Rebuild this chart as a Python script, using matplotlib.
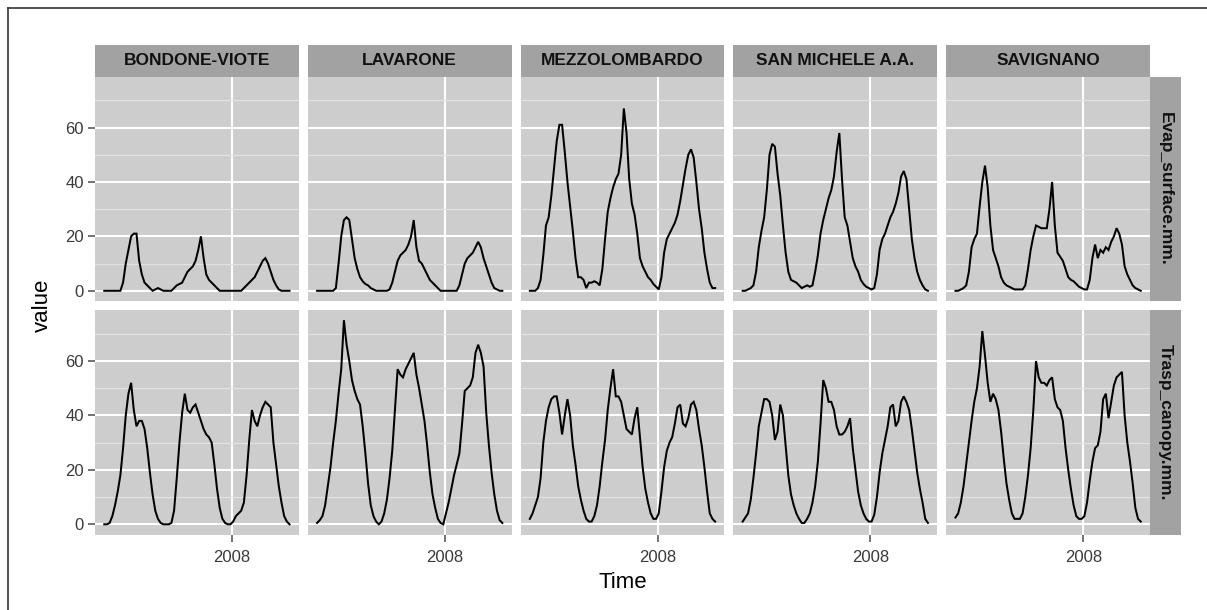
import numpy as np
import matplotlib
matplotlib.use("Agg")
import matplotlib.pyplot as plt
from matplotlib.lines import Line2D
from matplotlib.ticker import FixedLocator

plt.rcParams['font.family'] = ['Liberation Sans', 'DejaVu Sans']

# ---------------- data ----------------
stations = ["BONDONE-VIOTE", "LAVARONE", "MEZZOLOMBARDO", "SAN MICHELE A.A.", "SAVIGNANO"]
variables = ["Evap_surface.mm.", "Trasp_canopy.mm."]
time = np.linspace(2006.0, 2008.9, 70)
x_breaks = [2008]
x_labels = ["2008"]
y_breaks = [0, 20, 40, 60]
y_minor = [10, 30, 50, 70]

evap_bondone = [0, 0, 0, 0, 0, 0, 0, 3, 10, 15, 20, 21, 21, 11, 6, 3, 2, 1, 0, 0.5,
                1, 0.5, 0, 0, 0, 0, 1, 2, 2.5, 3, 5, 7, 8, 9, 11, 15, 20, 12, 6, 4,
                3, 2, 1, 0, 0, 0, 0, 0, 0, 0, 0, 0, 1, 2, 3, 4, 5, 7, 9, 11,
                12, 10, 7, 4, 2, 0.5, 0, 0, 0, 0]
trasp_bondone = [0, 0, 0.5, 3, 7, 12, 18, 28, 40, 48, 52, 42, 36, 38, 38, 35, 28, 19, 11, 5,
                 2, 0.5, 0, 0, 0, 0.5, 5, 17, 30, 41, 48, 42, 41, 43, 44, 41, 38, 35, 33, 32,
                 30, 22, 13, 6, 2, 0.5, 0, 0, 1, 3, 4, 5, 8, 18, 31, 42, 38, 36, 40, 43,
                 45, 44, 43, 30, 22, 14, 8, 3, 1, 0]
evap_lavarone = [0, 0, 0, 0, 0, 0, 0, 1, 10, 20, 26, 27, 26, 19, 12, 8, 5, 3.5, 2.5, 2,
                 1, 0.5, 0, 0, 0, 0, 0, 0.5, 3, 7, 11, 13, 14, 15, 17, 20, 26, 16, 11, 10,
                 8, 6, 4, 3, 2, 1, 0, 0, 0, 0, 0, 0, 0, 2, 6, 10, 12, 13, 14, 16,
                 18, 16, 12, 9, 6, 3, 1, 0.5, 0, 0]
trasp_lavarone = [0.5, 1.5, 3, 7, 14, 21, 30, 38, 48, 57, 75, 66, 60, 53, 49, 46, 44, 36, 26, 15,
                  7, 3, 1, 0, 1, 4, 9, 17, 27, 42, 57, 55, 54, 57, 59, 61, 63, 55, 50, 44,
                  38, 29, 19, 11, 6, 2, 0.5, 0, 4, 8, 13, 18, 22, 26, 37, 49, 50, 51, 54, 63,
                  66, 63, 58, 41, 29, 19, 11, 5, 1.5, 0.5]
evap_mezzo = [0, 0, 0, 1, 4, 13, 24, 27, 35, 45, 55, 61, 61, 51, 40, 31, 22, 12, 5, 5,
              4, 1, 3, 3, 3.5, 3, 2, 8, 19, 29, 34, 38, 41, 43, 50, 67, 58, 41, 32, 28,
              21, 12, 9, 7, 5, 4, 2.5, 1.5, 0.5, 5, 14, 19, 21, 23, 25, 28, 33, 39, 45, 50,
              52, 49, 40, 30, 23, 14, 8, 3, 1, 1]
trasp_mezzo = [2, 4, 7, 10, 17, 30, 38, 43, 46, 47, 47, 41, 33, 40, 46, 40, 29, 22, 14, 9,
               5, 2, 1, 1, 3, 7, 14, 23, 31, 42, 50, 57, 47, 47, 45, 40, 35, 34, 33, 39,
               43, 32, 21, 13, 8, 4, 2, 2, 4, 12, 21, 27, 30, 32, 37, 43, 44, 37, 36, 39,
               44, 45, 42, 35, 29, 21, 12, 4, 2, 1]
evap_sanmichele = [0, 0, 0.5, 1, 2, 7, 16, 22, 27, 37, 50, 54, 53, 43, 35, 24, 14, 7, 4, 3.5,
                   3, 2, 1, 1.5, 2, 1.5, 2, 7, 13, 21, 26, 30, 34, 37, 42, 51, 58, 41, 27, 24,
                   18, 12, 9, 7, 4, 2.5, 1.5, 1, 0.5, 1, 6, 15, 19, 21, 24, 27, 29, 32, 36, 42,
                   44, 41, 30, 19, 12, 7, 4, 2, 0.5, 0]
trasp_sanmichele = [1, 2.5, 4, 9, 17, 26, 36, 41, 46, 46, 45, 40, 31, 34, 44, 40, 29, 18, 11, 7,
                    4, 2, 0.5, 0.5, 2, 4, 8, 14, 23, 37, 53, 50, 45, 45, 42, 36, 33, 33, 34, 36,
                    39, 28, 20, 12, 7, 4, 2, 1, 1, 3.5, 10, 19, 26, 31, 36, 43, 44, 36, 38, 45,
                    47, 45, 42, 35, 27, 19, 13, 8, 2, 0.5]
evap_savignano = [0, 0, 0.5, 1, 2, 7, 16, 19, 21, 31, 40, 46, 38, 24, 15, 12, 9, 5, 3, 2,
                  1.5, 1, 0.5, 0.5, 0.5, 0.5, 2, 8, 15, 20, 24, 23.5, 23, 23, 23, 30, 40, 24, 14, 12.5,
                  11, 8, 5, 4, 3.5, 2.5, 1.5, 1, 0.5, 0.5, 4, 12, 17, 12, 15, 14, 16, 15, 18, 20,
                  23, 21, 17, 9, 6, 4, 2, 1, 0.5, 0]
trasp_savignano = [2.5, 4, 8, 14, 22, 30, 38, 45, 50, 58, 71, 62, 52, 45, 48, 46, 42, 34, 24, 15,
                   9, 4, 2, 2, 2, 4, 10, 18, 28, 42, 60, 54, 52, 52, 51, 53, 54, 46, 43, 42,
                   38, 28, 20, 13, 7, 3, 2, 2, 3, 8, 16, 23, 28, 29, 34, 46, 48, 39, 45, 51,
                   54, 55, 56, 40, 30, 23, 15, 6, 2, 1]

series = {
    ("Evap_surface.mm.", "BONDONE-VIOTE"): evap_bondone,
    ("Trasp_canopy.mm.", "BONDONE-VIOTE"): trasp_bondone,
    ("Evap_surface.mm.", "LAVARONE"): evap_lavarone,
    ("Trasp_canopy.mm.", "LAVARONE"): trasp_lavarone,
    ("Evap_surface.mm.", "MEZZOLOMBARDO"): evap_mezzo,
    ("Trasp_canopy.mm.", "MEZZOLOMBARDO"): trasp_mezzo,
    ("Evap_surface.mm.", "SAN MICHELE A.A."): evap_sanmichele,
    ("Trasp_canopy.mm.", "SAN MICHELE A.A."): trasp_sanmichele,
    ("Evap_surface.mm.", "SAVIGNANO"): evap_savignano,
    ("Trasp_canopy.mm.", "SAVIGNANO"): trasp_savignano,
}

# ---------------- layout (pixels) ----------------
W, H = 1207, 610
fig = plt.figure(figsize=(W / 100, H / 100), dpi=100)
fig.patch.set_facecolor("white")

def ax_px(x0, y0, x1, y1):
    return fig.add_axes([x0 / W, (H - y1) / H, (x1 - x0) / W, (y1 - y0) / H])

panel_bg = "#cdcdcd"
strip_bg = "#a2a2a2"
minor_col = "#e2e2e2"
tick_col = "#4d4d4d"

left, right = 95, 1150
gap = 9
pw = (right - left - 4 * gap) / 5
rows = [(76.5, 301), (310, 534.5)]
strip_top = 45

# time range with ggplot-like 5% expansion
t0, t1 = time.min(), time.max()
tr = t1 - t0
xlim = (t0 - 0.05 * tr, t1 + 0.05 * tr)
ymax_data = max(max(v) for v in series.values())
ylim = (-0.05 * ymax_data, ymax_data * 1.05)

for r, var in enumerate(variables):
    y0, y1 = rows[r]
    for c, st in enumerate(stations):
        x0 = left + c * (pw + gap)
        x1 = x0 + pw
        ax = ax_px(x0, y0, x1, y1)
        ax.set_facecolor(panel_bg)
        for s in ax.spines.values():
            s.set_visible(False)
        ax.set_xlim(*xlim)
        ax.set_ylim(*ylim)
        ax.yaxis.set_major_locator(FixedLocator(y_breaks))
        ax.yaxis.set_minor_locator(FixedLocator(y_minor))
        ax.set_xticks(x_breaks)
        ax.set_xticklabels(x_labels)
        ax.set_axisbelow(True)
        ax.grid(True, which="major", color="white", lw=1.5)
        ax.grid(True, which="minor", axis="y", color=minor_col, lw=0.9)
        ax.tick_params(which="minor", length=0)
        ax.tick_params(which="major", length=5, width=1.1, color=tick_col,
                       labelcolor="#3a3a3a", labelsize=12, pad=3)
        ax.tick_params(axis="x", pad=6)
        if c != 0:
            ax.tick_params(axis="y", length=0, labelleft=False)
        if r != 1:
            ax.tick_params(axis="x", length=0, labelbottom=False)
        ax.plot(time, series[(var, st)], color="black", lw=1.45, solid_joinstyle="miter")

        if r == 0:
            sax = ax_px(x0, strip_top, x1, y0)
            sax.set_facecolor(strip_bg)
            sax.set_xticks([]); sax.set_yticks([])
            for s in sax.spines.values():
                s.set_visible(False)
            sax.text(0.5, 0.5, st, ha="center", va="center", fontsize=12.5,
                     fontweight="bold", color="#111111", transform=sax.transAxes)
    rax = ax_px(right, y0, right + 31, y1)
    rax.set_facecolor(strip_bg)
    rax.set_xticks([]); rax.set_yticks([])
    for s in rax.spines.values():
        s.set_visible(False)
    rax.text(0.5, 0.5, var, ha="center", va="center", rotation=-90, fontsize=12.5,
             fontweight="bold", color="#111111", transform=rax.transAxes)

fig.text((left + right) / 2 / W, 1 - 583 / H, "Time", ha="center", va="center", fontsize=16)
fig.text(42 / W, 1 - 305 / H, "value", ha="center", va="center", rotation=90, fontsize=16)

# outer frame lines (left and top)
fig.add_artist(Line2D([7.5 / W, 7.5 / W], [0, 1 - 8 / H], transform=fig.transFigure,
                      color="#333333", lw=1.2))
fig.add_artist(Line2D([7.5 / W, 1], [1 - 8 / H, 1 - 8 / H], transform=fig.transFigure,
                      color="#333333", lw=1.2))

fig.savefig("out.png", dpi=100)
